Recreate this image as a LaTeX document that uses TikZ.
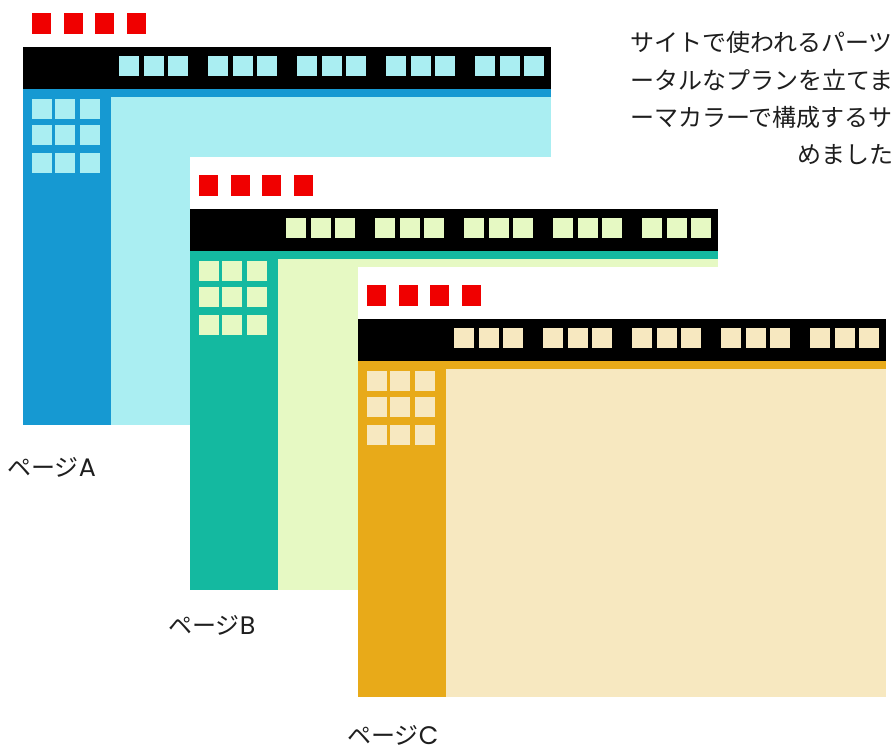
\documentclass[tikz,border=0pt]{standalone}
\usepackage{fontspec}
\newfontfamily\cjk{Noto Sans CJK JP}
\newfontfamily\latn{Poppins}
\definecolor{sideA}{RGB}{22,153,210}
\definecolor{lightA}{RGB}{170,238,242}
\definecolor{sideB}{RGB}{20,185,160}
\definecolor{lightB}{RGB}{230,249,195}
\definecolor{sideC}{RGB}{232,170,25}
\definecolor{lightC}{RGB}{247,232,192}
\definecolor{redsq}{RGB}{240,0,0}
\definecolor{txt}{RGB}{30,30,30}
\tikzset{
  caption/.style={anchor=west,inner sep=0pt,font=\cjk\fontsize{18}{20}\selectfont,text=txt},
  bodytext/.style={anchor=west,inner sep=0pt,font=\cjk\fontsize{18}{20}\selectfont,text=txt}
}
% #1 L, #2 T (black bar top), #3 side colour, #4 light colour, #5 height, #6 name
\newcommand{\webpage}[6]{%
  \begin{scope}[shift={(#1,#2)}]
    \fill[white] (0,-52) rectangle (528,0);
    \foreach \rx in {9,41,72,104}{\fill[redsq] (\rx,-34) rectangle ++(19,21);}
    \fill[black] (0,0) rectangle (528,42);
    \fill[#3] (0,42) rectangle (528,50);
    \fill[#3] (0,42) rectangle (88,#5);
    \fill[#4] (88,50) rectangle (528,#5);
    \foreach \g in {0,...,4}{\foreach \i in {0,1,2}{%
      \fill[#4] ({96+\g*89+\i*24.5},9) rectangle ++(20,20);}}
    \foreach \sx in {9,32,57}{\foreach \sy in {52,78,106}{%
      \fill[#4] (\sx,\sy) rectangle ++(20,20);}}
    \coordinate (#6) at (0,0);
  \end{scope}}
\begin{document}
\begin{tikzpicture}[x=0.75pt,y=-0.75pt]
\useasboundingbox (0,0) rectangle (892,753);
\fill[white] (0,0) rectangle (892,753);
\webpage{23}{47}{sideA}{lightA}{378}{pageA}
\webpage{190}{209}{sideB}{lightB}{381}{pageB}
\webpage{358}{319}{sideC}{lightC}{378}{pageC}
\node[bodytext] (t1) at (630,42) {サイトで使われるパーツ};
\node[bodytext] (t2) at (630,80) {ータルなプランを立てま};
\node[bodytext] (t3) at (630,117) {ーマカラーで構成するサ};
\node[bodytext] (t4) at (797,155) {めました};
\node[caption] (la) at (7,467) {ページ{\latn\fontsize{19}{20}\selectfont A}};
\node[caption] (lb) at (168,625) {ページ{\latn\fontsize{19}{20}\selectfont B}};
\node[caption] (lc) at (347,735) {ページ{\latn\fontsize{19}{20}\selectfont C}};
\end{tikzpicture}
\end{document}
